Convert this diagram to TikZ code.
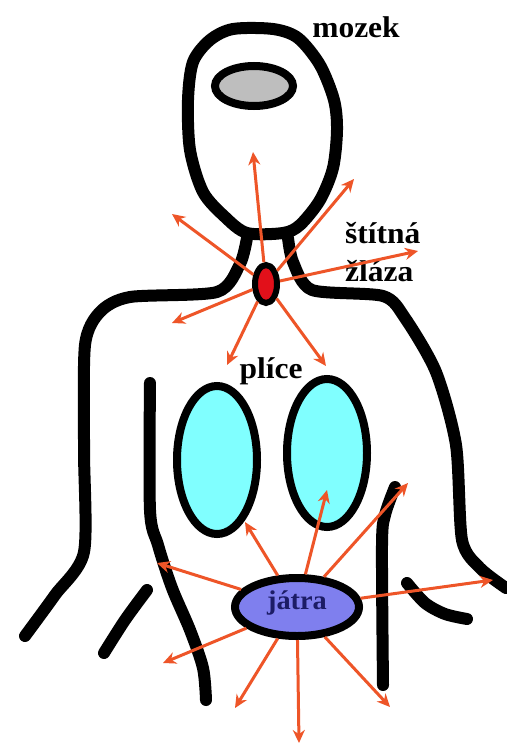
\documentclass[tikz,border=0pt]{standalone}
\usepackage{fontspec}
\setmainfont{Liberation Serif}
\usepackage{tikz}
\usetikzlibrary{arrows.meta,shapes.geometric}
\definecolor{Outline}{HTML}{000000}
\definecolor{BrainGrey}{HTML}{BEBEBE}
\definecolor{LungCyan}{HTML}{80FFFF}
\definecolor{LiverBlue}{HTML}{7F7FEE}
\definecolor{GlandRed}{HTML}{E2101A}
\definecolor{Signal}{HTML}{EE5528}
\definecolor{LiverText}{HTML}{1C1C66}

\begin{document}
\begin{tikzpicture}[
  x=1pt, y=-1pt,
  body/.style={draw=Outline, line width=12pt, line cap=round, line join=round},
  organ/.style={ellipse, draw=Outline, line width=8pt, inner sep=0pt},
  ray/.style={draw=Signal, line width=3pt, -{Stealth[length=13pt,width=12pt]}},
  tag/.style={inner sep=0pt, font=\bfseries\fontsize{30}{32}\selectfont, xscale=1.05}
]
\useasboundingbox[fill=white] (0,0) rectangle (506,744);

% head and body outline
\draw[body] plot[smooth cycle, tension=0.5] coordinates {
  (233,29) (273,29) (298,38) (320,65) (334,100) (337,130) (333,168)
  (320,200) (300,225) (283,233) (247,233) (225,217) (203,192)
  (190,150) (188,100) (193,62) (210,40)};
\draw[body] plot[smooth, tension=0.45] coordinates {
  (247,238) (240,264) (217,292) (130,297) (100,312) (85,345)
  (84,450) (84,552) (55,595) (25,636)};
\draw[body] plot[smooth, tension=0.45] coordinates {
  (288,238) (293,262) (312,290) (383,296) (405,318) (436,372)
  (456,445) (462,540) (480,568) (506,588)};
% arms
\draw[body] plot[smooth, tension=0.5] coordinates {
  (150,383) (150,510) (158,545) (172,588) (190,630) (203,668) (206,700)};
\draw[body] plot[smooth, tension=0.5] coordinates {
  (147,590) (125,620) (104,653)};
\draw[body] plot[smooth, tension=0.5] coordinates {
  (395,487) (385,515) (382,545) (383,685)};
\draw[body] plot[smooth, tension=0.5] coordinates {
  (407,583) (425,603) (445,614) (467,619)};

% organs
\node[organ, fill=BrainGrey, minimum width=78pt, minimum height=40pt] (brain) at (254,86) {};
\node[organ, fill=LungCyan, minimum width=80pt, minimum height=148pt] (lungL) at (217,460) {};
\node[organ, fill=LungCyan, minimum width=80pt, minimum height=148pt] (lungR) at (327,453) {};
\node[organ, fill=GlandRed, line width=6pt, minimum width=22pt, minimum height=38pt] (thyroid) at (266,284) {};
\node[organ, fill=LiverBlue, minimum width=124pt, minimum height=58pt] (liver) at (297,607) {};

% labels
\node[tag, anchor=base] (mozek) at (356,37) {mozek};
\node[tag, anchor=base west] (stitna) at (345,243) {štítná};
\node[tag, anchor=base west] (zlaza) at (345,281) {žláza};
\node[tag, anchor=base] (plice) at (271,378) {plíce};
\node[tag, text=LiverText, font=\bfseries\fontsize{27}{29}\selectfont] (jatra) at (297,603) {játra};

% where the signals go
\coordinate (t1) at (253,152);
\coordinate (t2) at (354,179);
\coordinate (t3) at (172,214);
\coordinate (t4) at (418,251);
\coordinate (t5) at (172,323);
\coordinate (t6) at (227,365);
\coordinate (t7) at (326,366);
\coordinate (l1) at (245,522);
\coordinate (l2) at (327,490);
\coordinate (l3) at (408,483);
\coordinate (l4) at (157,563);
\coordinate (l5) at (493,580);
\coordinate (l6) at (163,663);
\coordinate (l7) at (235,708);
\coordinate (l8) at (299,743);
\coordinate (l9) at (390,707);

\foreach \t in {t1,t2,t3,t4,t5,t6,t7}
  \draw[ray] (thyroid) -- (\t);
\foreach \t in {l1,l2,l3,l4,l5,l6,l7,l8,l9}
  \draw[ray] (liver) -- (\t);
\end{tikzpicture}
\end{document}
